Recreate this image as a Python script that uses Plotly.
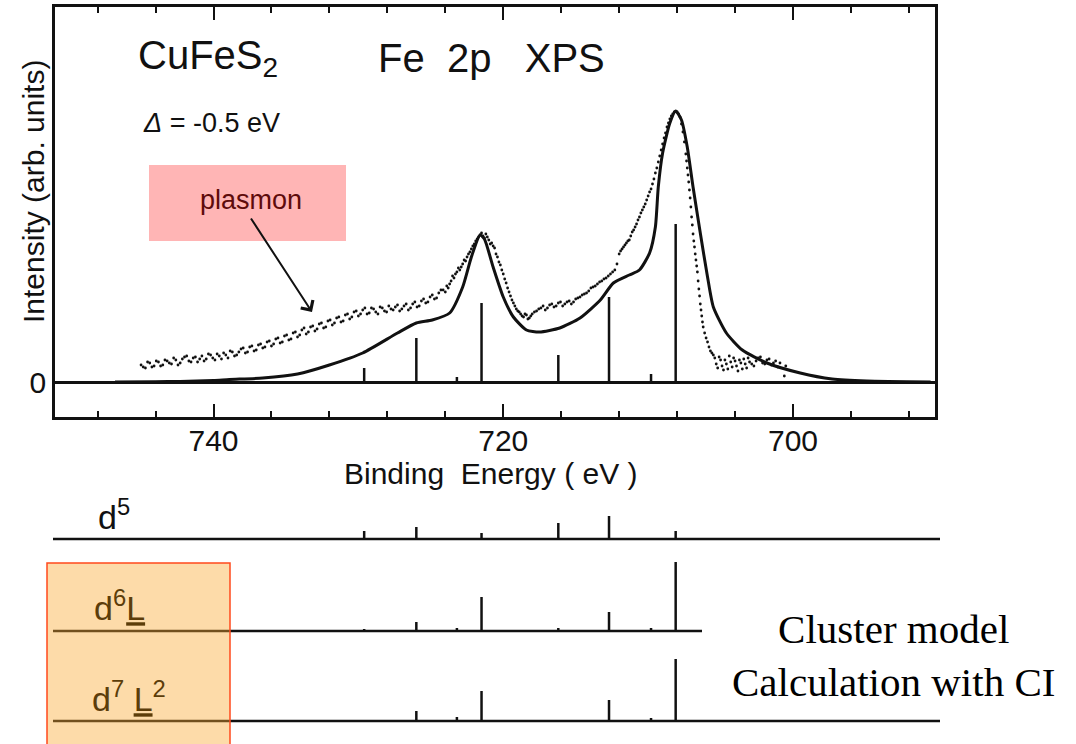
import plotly.graph_objects as go

W, H = 1076, 744

# ---------------- data ----------------
# calculated (solid) spectrum, binding energy (eV) / intensity (arb. units)
fit_energy = [746.8, 744.0, 742.3, 740.0, 738.9, 736.6, 734.2, 732.0, 729.7, 727.3,
              726.0, 724.9, 723.7, 722.8, 722.2, 721.6, 721.3, 720.7, 720.0, 719.3,
              718.4, 717.5, 716.1, 714.7, 713.3, 712.4, 711.3, 710.6, 709.9, 709.5,
              709.3, 709.0, 708.5, 708.1, 707.7, 707.3, 706.9, 706.4, 705.9, 705.5,
              704.6, 703.5, 701.8, 699.5, 697.3, 694.9, 690.5]
fit_intensity = [0, 0.3, 0.5, 1.5, 2.5, 4, 8, 17, 29, 49,
                 59, 62, 69, 95, 125, 147, 143, 115, 85, 65,
                 52, 50, 54, 64, 82, 99, 107, 112, 129, 155,
                 195, 229, 259, 271, 262, 235, 195, 149, 105, 75,
                 49, 32, 19, 9, 3, 1, 0]

# experimental points (first pass of readings)
dot_energy = [745.0, 744.7, 744.4, 744.1, 743.8, 743.5, 743.2, 742.9, 742.6, 742.3,
              742.0, 741.7, 741.4, 741.1, 740.8, 740.5, 740.2, 739.9, 739.6, 739.3,
              739.0, 738.7, 738.4, 738.1, 737.8, 737.5, 737.2, 736.9, 736.6, 736.3,
              736.0, 735.7, 735.4, 735.1, 734.8, 734.5, 734.2, 733.9, 733.6, 733.3,
              733.0, 732.7, 732.4, 732.1, 731.8, 731.5, 731.2, 730.9, 730.6, 730.3,
              730.0, 729.7, 729.4, 729.1, 728.8, 728.5, 728.2, 727.9, 727.6, 727.3,
              727.0, 726.7, 726.4, 726.1, 725.8, 725.5, 725.2, 724.9, 724.6, 724.3,
              724.0, 723.8, 723.6, 723.4, 723.2, 723.0, 722.8, 722.6, 722.4, 722.2,
              722.0, 721.8, 721.6, 721.4, 721.2, 721.0, 720.8, 720.6, 720.4, 720.2,
              720.0, 719.8, 719.6, 719.4, 719.2, 719.0, 718.8, 718.6, 718.4, 718.2,
              718.0, 717.7, 717.4, 717.1, 716.8, 716.5, 716.2, 715.9, 715.6, 715.3,
              715.0, 714.7, 714.4, 714.1, 713.8, 713.5, 713.2, 712.9, 712.6, 712.3,
              712.0, 711.8, 711.6, 711.4, 711.2, 711.0, 710.8, 710.6, 710.4, 710.2,
              710.0, 709.8, 709.6, 709.4, 709.2, 709.0, 708.8, 708.6, 708.4, 708.2,
              708.0, 707.8, 707.6, 707.4, 707.3, 707.2, 707.1, 707.0, 706.9, 706.8,
              706.7, 706.6, 706.5, 706.4, 706.3, 706.2, 706.0, 705.8, 705.6, 705.4,
              705.2, 705.0, 704.8, 704.6, 704.4, 704.2, 704.0, 703.8, 703.6, 703.4,
              703.2, 703.0, 702.7, 702.4, 702.1, 701.8, 701.5, 701.2, 700.9, 700.6,
              700.5]
dot_intensity = [17, 14, 19, 16, 20, 17, 21, 18, 22, 19,
                 25, 21, 24, 20, 26, 23, 27, 22, 26, 29,
                 24, 30, 27, 33, 29, 35, 31, 37, 34, 40,
                 36, 43, 39, 46, 42, 49, 45, 52, 48, 55,
                 51, 58, 54, 61, 57, 64, 60, 67, 63, 70,
                 66, 72, 68, 74, 70, 75, 71, 76, 72, 77,
                 73, 78, 74, 80, 76, 83, 80, 87, 84, 92,
                 90, 94, 101, 104, 110, 112, 118, 121, 128, 133,
                 138, 143, 147, 146, 148, 142, 139, 134, 125, 117,
                 108, 99, 90, 82, 76, 71, 68, 65, 67, 64,
                 68, 71, 74, 72, 77, 75, 79, 76, 80, 78,
                 83, 85, 88, 91, 95, 98, 101, 104, 108, 112,
                 128, 133, 137, 141, 146, 152, 158, 165, 172, 178,
                 186, 193, 203, 214, 226, 238, 249, 259, 266, 270,
                 270, 265, 250, 228, 214, 200, 184, 165, 148, 135,
                 122, 110, 93, 78, 66, 55, 44, 35, 29, 24,
                 14, 22, 12, 18, 26, 15, 21, 11, 19, 23,
                 14, 20, 16, 24, 19, 22, 17, 21, 19, 6,
                 16]

# experimental points (second pass, interleaved readings)
dot2_energy = [744.85, 744.55, 744.25, 743.95, 743.65, 743.35, 743.05, 742.75, 742.45, 742.15,
               741.85, 741.55, 741.25, 740.95, 740.65, 740.35, 740.05, 739.75, 739.45, 739.15,
               738.85, 738.55, 738.25, 737.95, 737.65, 737.35, 737.05, 736.75, 736.45, 736.15,
               735.85, 735.55, 735.25, 734.95, 734.65, 734.35, 734.05, 733.75, 733.45, 733.15,
               732.85, 732.55, 732.25, 731.95, 731.65, 731.35, 731.05, 730.75, 730.45, 730.15,
               729.85, 729.55, 729.25, 728.95, 728.65, 728.35, 728.05, 727.75, 727.45, 727.15,
               726.85, 726.55, 726.25, 725.95, 725.65, 725.35, 725.05, 724.75, 724.45, 724.15,
               723.9, 723.7, 723.5, 723.3, 723.1, 722.9, 722.7, 722.5, 722.3, 722.1,
               721.9, 721.7, 721.5, 721.3, 721.1, 720.9, 720.7, 720.5, 720.3, 720.1,
               719.9, 719.7, 719.5, 719.3, 719.1, 718.9, 718.7, 718.5, 718.3, 718.1,
               717.85, 717.55, 717.25, 716.95, 716.65, 716.35, 716.05, 715.75, 715.45, 715.15,
               714.85, 714.55, 714.25, 713.95, 713.65, 713.35, 713.05, 712.75, 712.45, 712.15,
               711.9, 711.7, 711.5, 711.3, 711.1, 710.9, 710.7, 710.5, 710.3, 710.1,
               709.9, 709.7, 709.5, 709.3, 709.1, 708.9, 708.7, 708.5, 708.3, 707.9,
               707.7, 707.5, 707.35, 707.25, 707.15, 707.05, 706.95, 706.85, 706.75, 706.65,
               706.55, 706.45, 706.35, 706.25, 706.1, 705.9, 705.7, 705.5, 705.3, 705.1,
               704.9, 704.7, 704.5, 704.3, 704.1, 703.9, 703.7, 703.5, 703.3, 703.1,
               702.85, 702.55, 702.25, 701.95, 701.65, 701.35, 701.05]
dot2_intensity = [15, 20, 15, 21, 16, 22, 19, 24, 17, 23,
                  26, 20, 25, 23, 21, 28, 24, 28, 23, 27,
                  31, 26, 30, 34, 30, 36, 32, 38, 35, 41,
                  38, 44, 40, 47, 43, 50, 47, 54, 50, 56,
                  53, 59, 55, 62, 59, 65, 61, 68, 65, 71,
                  68, 74, 69, 73, 68, 74, 70, 73, 75, 71,
                  76, 72, 78, 75, 81, 79, 85, 83, 89, 92,
                  96, 98, 106, 108, 114, 115, 122, 125, 130, 136,
                  141, 145, 149, 144, 145, 138, 136, 128, 120, 112,
                  103, 94, 86, 79, 73, 70, 66, 68, 63, 66,
                  70, 73, 76, 74, 78, 76, 80, 78, 81, 80,
                  84, 87, 89, 94, 96, 100, 103, 106, 110, 118,
                  131, 135, 139, 142, 150, 155, 162, 169, 175, 182,
                  190, 198, 209, 220, 232, 244, 255, 263, 268, 268,
                  258, 240, 221, 207, 192, 175, 157, 141, 128, 116,
                  101, 86, 72, 60, 49, 40, 31, 27, 18, 25,
                  16, 22, 13, 20, 24, 16, 22, 13, 18, 24,
                  18, 21, 25, 18, 23, 19, 15]

# line spectrum (sticks): energies shared by all configurations
stick_energy = [729.6, 726.0, 723.2, 721.5, 716.2, 712.7, 709.8, 708.1]
stick_total = [14, 44, 5, 79, 27, 85, 8, 158]
stick_d5 = [8, 12, 0, 6, 16, 23, 0, 8]
stick_d6L = [2, 9, 3, 34, 3, 19, 3, 69]
stick_d7L2 = [0, 10, 4, 30, 0, 21, 3, 62]

x_tick_values = [740, 720, 700]

# ---------------- layout helpers ----------------
def px(x):
    return x / W


def py(y):
    return 1 - y / H


FONT = "Liberation Sans"
INK = "#111111"
X_RANGE = [750.94, 690.20]
PLOT_L, PLOT_R, PLOT_T, PLOT_B = 55, 935, 7, 417
Y_RANGE = [-35, 375]
BASE_D5, BASE_D6, BASE_D7 = 539, 631, 721


def sticks(energies, heights, base=0.0, sign=1):
    xs, ys = [], []
    for e, h in zip(energies, heights):
        if h <= 0:
            continue
        xs += [e, e, None]
        ys += [base, base + sign * h, None]
    return xs, ys


fig = go.Figure()

# experimental dots
for ex, iy in [(dot_energy, dot_intensity), (dot2_energy, dot2_intensity)]:
    fig.add_trace(go.Scatter(x=ex, y=iy, mode="markers",
                             marker=dict(size=2.8, color=INK), hoverinfo="skip"))
# calculated curve
fig.add_trace(go.Scatter(x=fit_energy, y=fit_intensity, mode="lines",
                         line=dict(color=INK, width=3, shape="spline", smoothing=0.6),
                         hoverinfo="skip"))
# total sticks
sx, sy = sticks(stick_energy, stick_total)
fig.add_trace(go.Scatter(x=sx, y=sy, mode="lines", line=dict(color=INK, width=2.5),
                         hoverinfo="skip"))

# lower panel sticks (pixel-like y axis, reversed)
for heights, base in [(stick_d5, BASE_D5), (stick_d6L, BASE_D6), (stick_d7L2, BASE_D7)]:
    sx, sy = sticks(stick_energy, heights, base=base, sign=-1)
    fig.add_trace(go.Scatter(x=sx, y=sy, mode="lines", xaxis="x2", yaxis="y2",
                             line=dict(color=INK, width=2.5), hoverinfo="skip"))

shapes = []
# baselines of lower panel
for x0, x1, yb in [(53, 940, BASE_D5), (53, 702, BASE_D6), (53, 940, BASE_D7)]:
    shapes.append(dict(type="line", xref="paper", yref="paper",
                       x0=px(x0), x1=px(x1), y0=py(yb), y1=py(yb),
                       line=dict(color=INK, width=2.5), layer="above"))
# orange highlight box
shapes.append(dict(type="rect", xref="paper", yref="paper",
                   x0=px(47), x1=px(230), y0=py(563), y1=py(752),
                   fillcolor="rgba(250,170,50,0.42)",
                   line=dict(color="#ff4a1c", width=1.5), layer="above"))
# pink plasmon box
shapes.append(dict(type="rect", xref="paper", yref="paper",
                   x0=px(149), x1=px(346), y0=py(241), y1=py(165),
                   fillcolor="rgba(255,0,0,0.29)", line=dict(width=0), layer="above"))

annotations = [
    dict(text="CuFeS<sub>2</sub>", x=px(136), y=py(58), xanchor="left", yanchor="middle",
         font=dict(family=FONT, size=40, color=INK)),
    dict(text="Fe\u00a0\u00a02p\u00a0\u00a0\u00a0XPS", x=px(376), y=py(58), xanchor="left",
         yanchor="middle", font=dict(family=FONT, size=40, color=INK)),
    dict(text="<i>\u0394</i>\u00a0=\u00a0-0.5\u00a0eV", x=px(141), y=py(123), xanchor="left",
         yanchor="middle", font=dict(family=FONT, size=27, color=INK)),
    dict(text="plasmon", x=px(251), y=py(200), xanchor="center", yanchor="middle",
         font=dict(family=FONT, size=27, color="#5e0b0b")),
    dict(text="", x=px(312), y=py(312), ax=250 - 312, ay=217 - 312, showarrow=True,
         arrowhead=4, arrowsize=1.4, arrowwidth=2, arrowcolor=INK),
    dict(text="Intensity\u00a0(arb.\u00a0units)", x=px(33), y=py(192), xanchor="center",
         yanchor="middle", textangle=-90, font=dict(family=FONT, size=30, color=INK)),
    dict(text="Binding\u00a0\u00a0Energy\u00a0(\u00a0eV\u00a0)", x=px(490), y=py(473),
         xanchor="center", yanchor="middle", font=dict(family=FONT, size=30, color=INK)),
    dict(text="d<sup>5</sup>", x=px(96), y=py(514), xanchor="left", yanchor="middle",
         font=dict(family=FONT, size=34, color=INK)),
    dict(text="d<sup>6</sup><u>L</u>", x=px(92), y=py(605), xanchor="left",
         yanchor="middle", font=dict(family=FONT, size=34, color="#5c3d0a")),
    dict(text="d<sup>7</sup>\u00a0<u>L</u><sup>2</sup>", x=px(90), y=py(696), xanchor="left",
         yanchor="middle", font=dict(family=FONT, size=34, color="#5c3d0a")),
    dict(text="Cluster model<br>Calculation with CI", x=px(893), y=py(655),
         xanchor="center", yanchor="middle", align="center",
         font=dict(family="Liberation Serif", size=41, color="#000000")),
]
for a in annotations:
    a.setdefault("showarrow", False)
    a.setdefault("xref", "paper")
    a.setdefault("yref", "paper")

fig.update_layout(
    width=W, height=H, autosize=False,
    margin=dict(l=0, r=0, t=0, b=0, pad=0),
    paper_bgcolor="white", plot_bgcolor="rgba(0,0,0,0)",
    showlegend=False,
    font=dict(family=FONT, color=INK),
    shapes=shapes, annotations=annotations,
    xaxis=dict(domain=[px(PLOT_L), px(PLOT_R)], range=X_RANGE, anchor="y",
               tickmode="array", tickvals=x_tick_values,
               ticks="inside", ticklen=13, tickwidth=2, tickcolor=INK,
               ticklabelstandoff=-5,
               minor=dict(dtick=4, tick0=700, ticks="inside", ticklen=6, tickwidth=2,
                          tickcolor=INK, showgrid=False),
               showline=True, linecolor=INK, linewidth=2.5, mirror="ticks",
               showgrid=False, zeroline=False,
               tickfont=dict(family=FONT, size=30, color=INK)),
    yaxis=dict(domain=[py(PLOT_B), py(PLOT_T)], range=Y_RANGE, anchor="x",
               tickmode="array", tickvals=[0], ticktext=["0"], ticks="",
               showline=True, linecolor=INK, linewidth=2.5, mirror=True,
               showgrid=False, zeroline=True, zerolinecolor=INK, zerolinewidth=3,
               tickfont=dict(family=FONT, size=30, color=INK)),
    xaxis2=dict(domain=[px(PLOT_L), px(PLOT_R)], range=X_RANGE, anchor="y2", visible=False),
    yaxis2=dict(domain=[0, py(470)], range=[744, 470], anchor="x2", visible=False),
)

fig.write_html("out.html")
